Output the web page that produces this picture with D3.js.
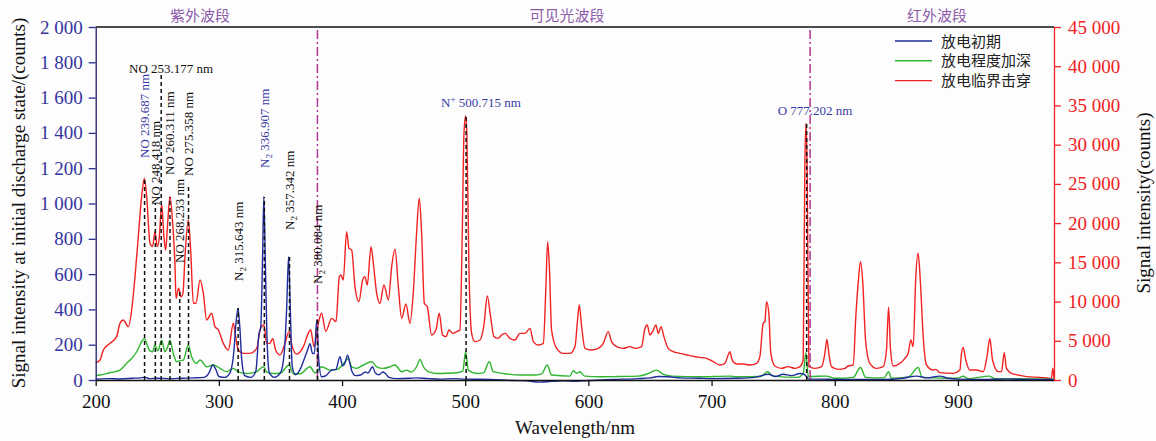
<!DOCTYPE html>
<html>
<head>
<meta charset="utf-8">
<script src="https://cdn.jsdelivr.net/npm/d3@7"></script>
<style>
  body { margin: 0; background: #fdfdfd; }
  text { font-family: "Liberation Serif", "Times New Roman", serif; }
</style>
</head>
<body>
<script>
// spectra: [wavelength nm, counts]
var redSpectrum = [[200,2200],[203.5,2550],[206.2,3825],[211.6,4675],[217,5525],[219.7,7225],[222.4,7650],[226.5,6800],[229.2,8925],[231.9,13175],[234.6,18275],[237.3,23375],[239.5,25712],[241.4,23375],[244.1,17425],[246.2,17000],[248.1,18912],[250,17000],[251.7,18275],[253.5,22440],[255.4,18275],[256.8,16575],[258.4,19975],[260.3,23375],[262.5,19975],[264.4,14450],[265.2,10412],[267.3,11700],[269.3,10600],[270.8,11050],[272.5,15725],[275.2,20400],[277.1,16575],[279.3,9775],[281.4,9775],[284.7,12750],[287.4,11050],[290.1,7650],[294.1,8500],[296.8,6800],[299.6,6375],[303.6,4675],[307.7,3825],[311.7,7225],[313.6,5525],[315.8,3825],[319.9,3400],[325.3,3400],[330.7,4037],[333.9,6587],[336.6,7012],[338.8,4675],[341.5,4675],[343.7,5312],[346.1,3825],[349.6,3187],[353.7,4675],[356.9,6162],[359.6,4250],[363.1,3300],[368.6,4250],[372.6,5950],[374.5,6400],[377.3,4250],[380.7,7200],[383.4,8500],[386.8,6200],[391.5,7862],[395.1,7437],[397.8,13175],[399.1,13387],[401,12750],[403.7,18912],[405.6,16787],[407.8,16575],[410.5,11900],[413.7,9987],[416.7,12750],[418.6,13175],[420.5,12112],[423.5,17000],[425.4,14875],[428.1,11050],[430.8,9775],[434,12112],[437.6,10200],[440.3,14450],[443,16660],[445.7,11900],[448.4,7862],[451.9,9690],[455.1,7225],[457.8,11050],[460.5,18700],[462.7,23162],[464.6,18700],[466.8,9775],[469.2,9350],[472.7,5737],[476.2,6375],[478.9,8500],[481.6,5737],[484.4,5525],[486.8,6375],[489.8,5950],[493,6162],[495.7,6375],[497.6,18700],[499,31450],[500.3,33660],[501.3,31450],[503,14450],[505.2,5950],[507.9,4887],[512,5100],[515.2,7012],[517.9,10710],[520.6,8075],[523.3,5525],[526.8,5312],[529.5,5737],[532.3,5950],[536.3,5312],[540.4,5100],[544.4,5950],[548.5,5950],[552.6,6587],[555.3,4887],[559.3,4462],[563.4,4675],[565.5,11900],[566.9,17637],[568.3,14450],[570.1,6375],[574.2,4037],[579.6,3400],[585,3400],[589.1,4250],[591.2,7650],[592.6,9562],[594.5,6800],[597.2,4037],[602.6,3825],[608,4037],[612.1,4675],[616.1,6162],[618.8,4887],[622.9,4250],[628.3,4037],[633.7,4250],[637.8,4037],[643.2,4250],[645.9,6587],[647.8,7012],[649.9,5737],[652.7,6375],[654.8,7012],[656.7,5950],[658.9,6800],[661.3,5525],[664.8,4037],[668.9,3612],[674.3,3400],[680,3200],[686,3000],[690.5,2890],[695.9,2762],[701.3,2337],[706.7,1912],[710.8,2125],[713.5,3187],[714.9,3612],[716.7,2550],[720.3,2040],[725.7,2040],[731.1,1912],[736.5,2125],[739.2,2975],[741.9,7225],[743.3,7437],[744.6,9987],[746.5,8500],[748.1,3400],[751.4,1785],[756.8,1487],[762.2,1700],[767.6,1487],[771.7,1700],[774.4,2550],[775.7,27200],[776.6,32725],[777.6,27200],[779,1700],[783.9,1487],[789.3,1700],[792,3400],[793.6,5185],[795.2,3400],[797.4,1700],[802.8,1360],[808.2,1487],[810.9,1785],[815,1912],[817.1,8075],[819,12325],[820.9,15087],[822.8,12325],[825,5100],[828.5,2125],[833.9,1487],[839.3,1700],[842,3825],[843.7,9265],[845.3,3825],[847.5,1785],[852.9,2125],[857,2762],[859.6,3400],[861.8,5100],[863.7,4250],[865.8,13175],[867.7,16150],[869.6,12325],[871.8,5525],[874.5,1912],[879.9,1275],[882.1,1360],[885.3,935],[896.2,850],[901.6,1275],[902.9,3400],[904.3,4165],[906.4,2550],[909.7,1275],[915.1,1275],[920.5,1062],[923.8,3187],[925.9,5312],[928.1,2550],[932.7,1062],[935.4,1062],[937.6,3485],[939.4,1487],[943.5,850],[948.9,637],[955.7,425],[966.5,340],[976,212],[977,1500],[978,250]];

var blueSpectrum = [[200,5],[210,8],[220,6],[230,10],[236,12],[240,15],[244,8],[250,10],[260,8],[270,10],[280,12],[288,15],[292,40],[295,85],[297.5,60],[300,20],[305,15],[309,40],[312,150],[314,330],[315.5,406],[317,300],[318.5,120],[321,25],[326,15],[330,50],[332.5,260],[334,300],[335.5,700],[336.5,1039],[337.5,750],[339,250],[341,40],[345,15],[350,40],[353,150],[355,400],[356.6,699],[358,400],[359.5,80],[362,30],[366,60],[369,113],[372,170],[374,205],[376,150],[377.5,150],[379.5,340],[381,120],[383.4,18],[387,25],[391.5,56],[395,60],[398.3,132],[400.5,80],[402,90],[404.5,141],[406.5,90],[408,50],[411,25],[415,28],[419,45],[421,40],[424.8,75],[427,40],[430,30],[433,45],[435,38],[438,15],[445,8],[455,10],[460,12],[470,8],[480,5],[490,8],[500,5],[520,3],[540,-3],[550,-5],[560,-12],[570,-8],[580,-5],[590,-8],[600,-3],[620,3],[640,8],[650,12],[657,20],[665,18],[675,12],[690,10],[700,8],[720,10],[735,15],[746,33],[752,20],[758,33],[765,25],[771.7,37],[775,33],[777,20],[779,5],[790,5],[800,3],[820,3],[840,3],[855,10],[866.4,22],[875,12],[885.3,22],[892,10],[900,5],[920,3],[940,5],[960,3],[978,3]];

var greenSpectrum = [[200,25],[203.5,28],[211.6,41],[219.7,56],[225,94],[229.2,122],[233.3,160],[237.3,217],[239.5,236],[241.4,207],[244,165],[246.2,160],[248.1,198],[250.5,165],[253.5,226],[256.3,160],[258.5,190],[260.3,226],[263,151],[265.7,104],[268.5,110],[271.1,113],[275.2,198],[277.9,132],[282,94],[284.7,113],[290.1,75],[295.5,85],[300.9,66],[306.3,47],[311.7,66],[316,45],[322.5,37],[330.7,47],[336.1,75],[339,45],[344.2,37],[350,40],[357,85],[360.4,35],[366,35],[374,75],[378,40],[383.4,75],[390.2,56],[396,60],[402.4,103],[405.1,122],[407.8,75],[411.8,66],[417.3,85],[424,103],[428.1,75],[433.5,66],[438.9,75],[443,85],[448.4,47],[452.4,56],[456,45],[460.5,75],[463.3,117],[466,75],[470,47],[476.8,37],[485,38],[493,41],[498,50],[500.3,160],[502.5,56],[509.3,37],[515,42],[519.5,103],[522.8,47],[530.9,37],[544.4,28],[556,28],[562,35],[566.6,85],[570.1,28],[585,22],[587.7,52],[590.5,38],[593.1,47],[597,22],[609.4,18],[625,20],[640,22],[648,35],[655.4,56],[660,35],[668,22],[690,18],[714.9,22],[720,18],[740,20],[745.4,47],[750,22],[770,15],[774.4,37],[776.6,154],[778.5,20],[793.3,22],[800,10],[815,15],[820.9,71],[825,15],[840,12],[843.7,47],[846,10],[860,18],[867.7,71],[871,15],[900,10],[904.3,22],[908,8],[925.4,22],[930,8],[950,8],[978,5]];

var seriesNames = ["放电初期", "放电程度加深", "放电临界击穿"];
var bandNames = ["紫外波段", "可见光波段", "红外波段"];
var bandBorders = [380, 780];

var xTicks = [200, 300, 400, 500, 600, 700, 800, 900];
var leftTicks = [0, 200, 400, 600, 800, 1000, 1200, 1400, 1600, 1800, 2000];
var rightTicks = [0, 5000, 10000, 15000, 20000, 25000, 30000, 35000, 40000, 45000];

// marked emission lines: wavelength, species, top of dashed line (counts), axis used
var lineWl = [239.687, 248.418, 253.177, 260.311, 268.233, 275.358, 315.643, 336.907, 357.342, 380.084, 500.715, 777.202];
var lineSpecies = ["NO", "NO", "NO", "NO", "NO", "NO", "N2", "N2", "N2", "N2", "N+", "O"];
var lineTop = [25750, 22570, 38890, 23330, 11475, 24860, 408, 1037, 697, 340, 33530, 32770];
var lineAxis = ["R", "R", "R", "R", "R", "R", "L", "L", "L", "L", "R", "R"];

var W = 1156, H = 441;
var blue = "#1f2c9c", green = "#2fb52f", red = "#f22222";
var labelBlue = "#3b3ba6", purple = "#8c5cab";

// label placement (pixels): rotated labels give the bottom y, flat labels give x/baseline
var labelLayout = [
  {rot: true, y: 158, c: labelBlue},
  {rot: true, y: 205, c: "#111"},
  {rot: false, x: 129, y: 73, anchor: "start", c: "#111"},
  {rot: true, y: 175, c: "#111"},
  {rot: true, y: 263, c: "#111"},
  {rot: true, y: 176, c: "#111"},
  {rot: true, y: 281, c: "#111"},
  {rot: true, y: 168, c: labelBlue},
  {rot: true, y: 230, c: "#111"},
  {rot: true, y: 284, c: "#111"},
  {rot: false, x: 481, y: 107, anchor: "middle", c: labelBlue},
  {rot: false, x: 815, y: 115, anchor: "middle", c: labelBlue}
];

var svg = d3.select("body").append("svg")
  .attr("width", W).attr("height", H)
  .style("background", "#fdfdfd");

var x = d3.scaleLinear().domain([200, 978]).range([95.7, 1054]);
var yL = d3.scaleLinear().domain([0, 2000]).range([380, 27]);
var yR = d3.scaleLinear().domain([0, 45000]).range([380, 27]);

var fmt = function(v) { return d3.format(",")(v).replace(/,/g, " "); };

// series
var lineR = d3.line().x(function(d) { return x(d[0]); }).y(function(d) { return yR(d[1]); }).curve(d3.curveMonotoneX);
var lineL = d3.line().x(function(d) { return x(d[0]); }).y(function(d) { return yL(d[1]); }).curve(d3.curveMonotoneX);

svg.append("path").datum(redSpectrum).attr("d", lineR)
  .attr("fill", "none").attr("stroke", red).attr("stroke-width", 1.4);
svg.append("path").datum(greenSpectrum).attr("d", lineL)
  .attr("fill", "none").attr("stroke", green).attr("stroke-width", 1.4);
svg.append("path").datum(blueSpectrum).attr("d", lineL)
  .attr("fill", "none").attr("stroke", blue).attr("stroke-width", 1.4);

// band borders
svg.selectAll(".band").data(bandBorders).enter().append("line")
  .attr("x1", function(d) { return x(d); }).attr("x2", function(d) { return x(d); })
  .attr("y1", 30).attr("y2", 380)
  .attr("stroke", "#b0358f").attr("stroke-width", 1.5)
  .attr("stroke-dasharray", "9,3,2,3");

// dashed marker lines
svg.selectAll(".mark").data(lineWl).enter().append("line")
  .attr("x1", function(d) { return x(d); }).attr("x2", function(d) { return x(d); })
  .attr("y1", 380)
  .attr("y2", function(d, i) { return lineAxis[i] === "R" ? yR(lineTop[i]) : yL(lineTop[i]); })
  .attr("stroke", "#111").attr("stroke-width", 1.5)
  .attr("stroke-dasharray", "4,3");

// marker labels
lineWl.forEach(function(wl, i) {
  var lay = labelLayout[i];
  var sp = lineSpecies[i];
  var t;
  if (lay.rot) {
    t = svg.append("text")
      .attr("transform", "translate(" + (x(wl) + 4.5) + "," + lay.y + ") rotate(-90)")
      .attr("text-anchor", "start");
  } else {
    t = svg.append("text").attr("x", lay.x).attr("y", lay.y).attr("text-anchor", lay.anchor);
  }
  t.attr("font-size", 13).attr("fill", lay.c);
  var num = " " + wl.toFixed(3) + " nm";
  if (sp === "N2") {
    t.append("tspan").text("N");
    t.append("tspan").attr("font-size", 9).attr("dy", 3).text("2");
    t.append("tspan").attr("dy", -3).text(num);
  } else if (sp === "N+") {
    t.append("tspan").text("N");
    t.append("tspan").attr("font-size", 9).attr("dy", -5).text("+");
    t.append("tspan").attr("dy", 5).text(num);
  } else {
    t.text(sp + num);
  }
});

// frame top
svg.append("line").attr("x1", 95.7).attr("x2", 1054).attr("y1", 27).attr("y2", 27)
  .attr("stroke", "#111").attr("stroke-width", 1.3);

// axes
var gx = svg.append("g").attr("transform", "translate(0,380)")
  .call(d3.axisBottom(x).tickValues(xTicks).tickSize(6).tickPadding(9).tickSizeOuter(0));
gx.select(".domain").attr("stroke", "#111").attr("stroke-width", 1.3);
gx.selectAll("line").attr("stroke", "#111").attr("stroke-width", 1.3);
gx.selectAll("text").attr("font-size", 19).attr("fill", "#111")
  .style("font-family", "'Liberation Serif', serif");

var gl = svg.append("g").attr("transform", "translate(95.7,0)")
  .call(d3.axisLeft(yL).tickValues(leftTicks).tickFormat(fmt).tickSize(7).tickPadding(6).tickSizeOuter(0));
gl.select(".domain").attr("stroke", "#1c1c6a").attr("stroke-width", 1.3);
gl.selectAll("line").attr("stroke", "#2a2a8a").attr("stroke-width", 1.3);
gl.selectAll("text").attr("font-size", 19).attr("fill", "#3535a0")
  .style("font-family", "'Liberation Serif', serif");

var gr = svg.append("g").attr("transform", "translate(1054,0)")
  .call(d3.axisRight(yR).tickValues(rightTicks).tickFormat(fmt).tickSize(7).tickPadding(7).tickSizeOuter(0));
gr.select(".domain").attr("stroke", red).attr("stroke-width", 1.3);
gr.selectAll("line").attr("stroke", red).attr("stroke-width", 1.3);
gr.selectAll("text").attr("font-size", 19).attr("fill", red)
  .style("font-family", "'Liberation Serif', serif");

// axis titles
svg.append("text").attr("x", 575).attr("y", 434).attr("text-anchor", "middle")
  .attr("font-size", 19).attr("fill", "#111").text("Wavelength/nm");
svg.append("text").attr("transform", "translate(25,203) rotate(-90)").attr("text-anchor", "middle")
  .attr("font-size", 19).attr("fill", "#111").text("Signal intensity at initial discharge state/(counts)");
svg.append("text").attr("transform", "translate(1150,203) rotate(-90)").attr("text-anchor", "middle")
  .attr("font-size", 19).attr("fill", "#111").text("Signal intensity(counts)");

// band names
var bandX = [200, 567, 937];
svg.selectAll(".bandname").data(bandNames).enter().append("text")
  .attr("x", function(d, i) { return bandX[i]; }).attr("y", 21)
  .attr("text-anchor", "middle").attr("font-size", 15).attr("fill", purple)
  .style("font-family", "'Noto Sans CJK SC', sans-serif")
  .text(function(d) { return d; });

// legend
var legColors = [blue, green, red];
var leg = svg.append("g").attr("transform", "translate(895,41)");
seriesNames.forEach(function(name, i) {
  leg.append("line").attr("x1", 0).attr("x2", 37).attr("y1", i * 19.8).attr("y2", i * 19.8)
    .attr("stroke", legColors[i]).attr("stroke-width", 1.4);
  leg.append("text").attr("x", 46).attr("y", i * 19.8 + 5.5)
    .attr("font-size", 15).attr("fill", "#222")
    .style("font-family", "'Noto Sans CJK SC', sans-serif")
    .text(name);
});
</script>
</body>
</html>
